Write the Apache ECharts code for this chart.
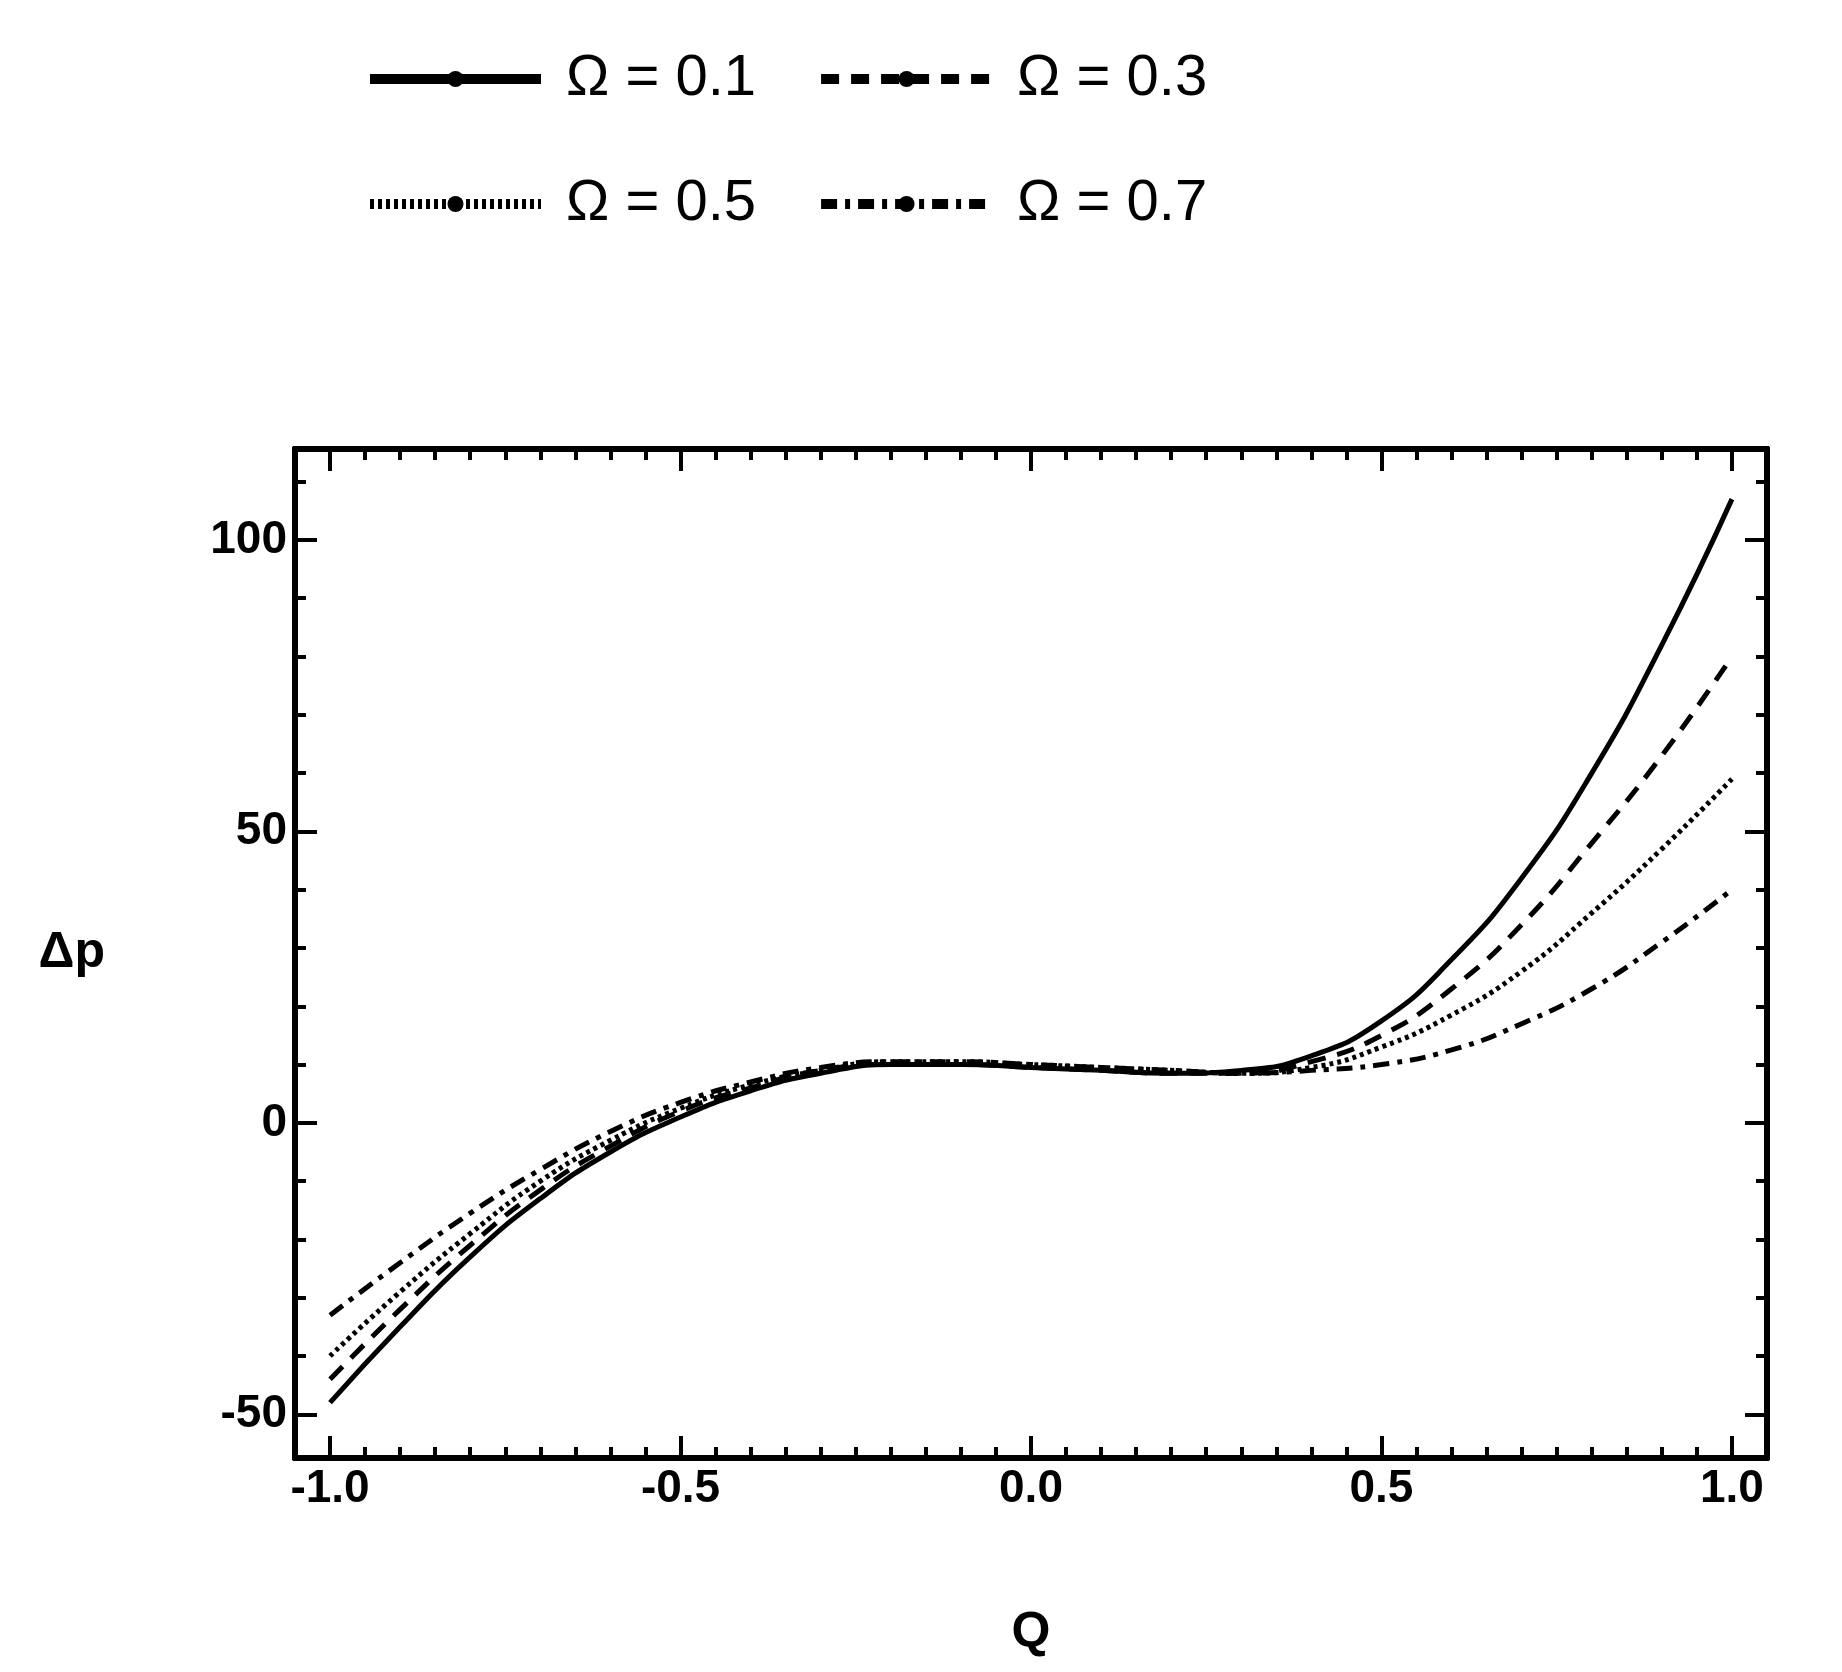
<!DOCTYPE html>
<html>
<head>
<meta charset="utf-8">
<script src="https://cdn.jsdelivr.net/npm/echarts@6/dist/echarts.min.js"></script>
<style>html,body{margin:0;padding:0;background:#fff}#chart{width:1842px;height:1672px}</style>
</head>
<body>
<div id="chart"></div>
<script>
// Q values
var qValues = [-1.0,-0.9,-0.8,-0.7,-0.6,-0.5,-0.4,-0.3,-0.2,-0.1,0.0,0.1,0.2,0.3,0.4,0.5,0.6,0.7,0.8,0.9,1.0];
// Δp for each Ω
var omega01 = [-48,-35,-23,-13,-5,1,5.5,8.5,10,10,9.5,9,8.5,9,11.5,17.5,28,42,60,82,107];
var omega03 = [-44,-32,-21,-11.5,-4,2,6,9,10,10,9.5,9,8.5,8.5,10.5,15,23,34,48,63,80];
var omega05 = [-40,-29,-19,-10,-3,2.5,6.5,9,10.5,10.5,10,9.5,9,8.5,9.5,13,18.5,26,36,47,59];
var omega07 = [-33,-24,-15.5,-8,-1.5,3.5,7,9.5,10.5,10.5,10,9.5,9,8.5,9,10,12.5,17,23,31,40];
var seriesNames = ['Ω = 0.1','Ω = 0.3','Ω = 0.5','Ω = 0.7'];
var xMajor = [-1.0,-0.5,0.0,0.5,1.0];
var yMajor = [-50,0,50,100];

function zip(ys){ return qValues.map(function(q,i){ return [q, ys[i]]; }); }
var xMinor = [], yMinor = [];
for (var i = -21; i <= 21; i++) xMinor.push(+(i*0.05).toFixed(2));
for (var j = -5; j <= 11; j++) yMinor.push(j*10);

var dashes = ['solid', [18,12], [4,4], [16,8,5,8]];
var lineData = [omega01, omega03, omega05, omega07];

var xBase = {type:'value', min:-1.05, max:1.05, axisLine:{show:true, onZero:false, lineStyle:{color:'#000', width:6}}, splitLine:{show:false}};
var yBase = {type:'value', min:-57.5, max:115.6, axisLine:{show:true, onZero:false, lineStyle:{color:'#000', width:6}}, splitLine:{show:false}};
function ax(base, pos, ticks, len, labels, extra){
  var o = Object.assign({}, base, {position:pos,
    axisTick:{show:true, inside:true, length:len, customValues:ticks, lineStyle:{color:'#000', width:4}},
    axisLabel:labels ? {customValues:ticks, fontSize:46, fontWeight:'bold', color:'#000', fontFamily:'Liberation Sans',
      formatter:function(v){ return base === xBase ? v.toFixed(1) : String(v); }} : {show:false}}, extra || {});
  return o;
}

var legendBase = {left:360, itemWidth:171, itemHeight:20, itemGap:60,
  textStyle:{fontSize:58, fontFamily:'Liberation Sans', color:'#000', padding:[0,0,0,20]},
  lineStyle:{width:10}};

var chart = echarts.init(document.getElementById('chart'));
chart.setOption({
  animation:false,
  legend:[
    Object.assign({data:seriesNames.slice(0,2), top:45}, legendBase),
    Object.assign({data:seriesNames.slice(2,4), top:170}, legendBase)
  ],
  grid:{left:295, right:75, top:449, bottom:214},
  xAxis:[
    ax(xBase,'bottom',xMajor,22,true,{name:'Q', nameLocation:'middle', nameGap:150,
      nameTextStyle:{fontSize:50, fontWeight:'bold', color:'#000', fontFamily:'Liberation Sans'}}),
    ax(xBase,'bottom',xMinor,11,false),
    ax(xBase,'top',xMajor,22,false),
    ax(xBase,'top',xMinor,11,false)
  ],
  yAxis:[
    ax(yBase,'left',yMajor,22,true,{name:'Δp', nameLocation:'middle', nameRotate:0, nameGap:190,
      nameTextStyle:{fontSize:50, fontWeight:'bold', color:'#000', fontFamily:'Liberation Sans'}}),
    ax(yBase,'left',yMinor,11,false),
    ax(yBase,'right',yMajor,22,false),
    ax(yBase,'right',yMinor,11,false)
  ],
  series: lineData.map(function(d,k){
    return {name:seriesNames[k], type:'line', data:zip(d), smooth:true, symbol:'none',
      xAxisIndex:0, yAxisIndex:0,
      itemStyle:{color:'#000'},
      lineStyle:{color:'#000', width:5, type:dashes[k]}};
  })
});
</script>
</body>
</html>
